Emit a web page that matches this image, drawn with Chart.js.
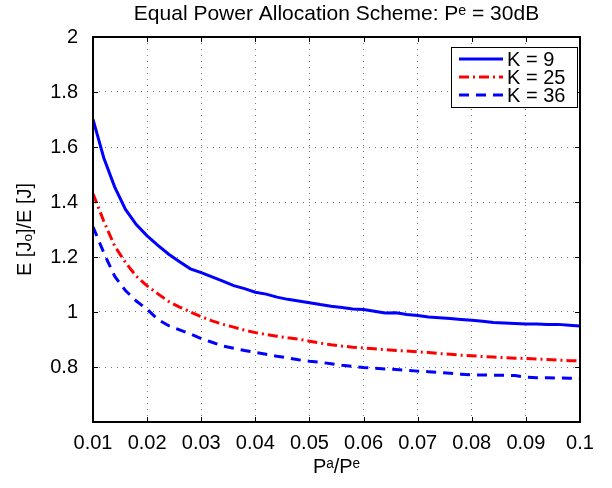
<!DOCTYPE html>
<html>
<head>
<meta charset="utf-8">
<script src="https://cdn.jsdelivr.net/npm/chart.js@4/dist/chart.umd.min.js"></script>
<style>
  html, body { margin: 0; padding: 0; background: #fff; }
  #wrap { width: 612px; height: 488px; }
</style>
</head>
<body>
<div id="wrap"><canvas id="chart" width="612" height="488"></canvas></div>
<script>
// P^a/P^e samples
const ratio = [0.010, 0.012, 0.014, 0.016, 0.018, 0.020, 0.022, 0.024, 0.026, 0.028,
               0.030, 0.032, 0.034, 0.036, 0.038, 0.040, 0.042, 0.044, 0.046, 0.048,
               0.050, 0.052, 0.054, 0.056, 0.058, 0.060, 0.062, 0.064, 0.066, 0.068,
               0.070, 0.072, 0.074, 0.076, 0.078, 0.080, 0.082, 0.084, 0.086, 0.088,
               0.090, 0.092, 0.094, 0.096, 0.098, 0.100];

const k9 = [1.70, 1.56, 1.455, 1.373, 1.318, 1.277, 1.242, 1.210, 1.183, 1.157,
            1.143, 1.128, 1.112, 1.096, 1.085, 1.072, 1.065, 1.054, 1.046, 1.040,
            1.034, 1.027, 1.021, 1.016, 1.011, 1.009, 1.003, 0.996, 0.997, 0.991,
            0.987, 0.982, 0.979, 0.976, 0.973, 0.970, 0.966, 0.962, 0.960, 0.958,
            0.956, 0.956, 0.955, 0.955, 0.952, 0.949];

const k25 = [1.43, 1.33, 1.24, 1.18, 1.13, 1.095, 1.066, 1.038, 1.018, 1.000,
             0.983, 0.968, 0.955, 0.945, 0.934, 0.925, 0.918, 0.912, 0.906, 0.901,
             0.894, 0.887, 0.881, 0.876, 0.872, 0.869, 0.866, 0.863, 0.860, 0.858,
             0.855, 0.853, 0.849, 0.846, 0.843, 0.841, 0.838, 0.836, 0.834, 0.832,
             0.831, 0.829, 0.827, 0.825, 0.823, 0.822];

const k36 = [1.31, 1.215, 1.13, 1.078, 1.04, 1.010, 0.973, 0.950, 0.935, 0.920,
             0.903, 0.890, 0.876, 0.868, 0.860, 0.853, 0.846, 0.839, 0.833, 0.826,
             0.821, 0.817, 0.812, 0.806, 0.802, 0.798, 0.796, 0.793, 0.791, 0.788,
             0.785, 0.783, 0.780, 0.777, 0.774, 0.771, 0.771, 0.770, 0.770, 0.769,
             0.763, 0.761, 0.761, 0.760, 0.759, 0.758];

const seriesLabels = ['K = 9', 'K = 25', 'K = 36'];
const xTicks = [0.01, 0.02, 0.03, 0.04, 0.05, 0.06, 0.07, 0.08, 0.09, 0.1];
const yTicks = [0.6, 0.8, 1.0, 1.2, 1.4, 1.6, 1.8, 2.0];

const FONT = 'Liberation Sans, Arial, Helvetica, sans-serif';

function toPoints(ys) {
    return ratio.map((x, i) => ({ x: x, y: ys[i] }));
}

// box round the plot area with inward ticks, MATLAB style
const axesBox = {
    id: 'axesBox',
    afterDatasetsDraw(chart) {
        const { ctx, chartArea: a, scales } = chart;
        ctx.save();
        ctx.strokeStyle = '#000';
        ctx.lineWidth = 1;
        ctx.beginPath();
        scales.x.ticks.forEach(t => {
            const px = Math.round(scales.x.getPixelForValue(t.value)) + 0.5;
            ctx.moveTo(px, a.bottom); ctx.lineTo(px, a.bottom - 5);
            ctx.moveTo(px, a.top); ctx.lineTo(px, a.top + 5);
        });
        scales.y.ticks.forEach(t => {
            const py = Math.round(scales.y.getPixelForValue(t.value)) + 0.5;
            ctx.moveTo(a.left, py); ctx.lineTo(a.left + 5, py);
            ctx.moveTo(a.right, py); ctx.lineTo(a.right - 5, py);
        });
        ctx.stroke();
        ctx.lineWidth = 2;
        ctx.strokeRect(a.left, a.top, a.right - a.left, a.bottom - a.top);
        ctx.restore();
    }
};

// legend drawn inside the axes, upper right, with a frame
const boxedLegend = {
    id: 'boxedLegend',
    afterDraw(chart) {
        const { ctx, chartArea: a } = chart;
        const w = 126, rowH = 18;
        const h = rowH * chart.data.datasets.length + 6;
        const x0 = a.right - w - 3, y0 = a.top + 10;
        ctx.save();
        ctx.fillStyle = '#fff';
        ctx.fillRect(x0, y0, w, h);
        ctx.strokeStyle = '#000';
        ctx.lineWidth = 1;
        ctx.strokeRect(x0 + 0.5, y0 + 0.5, w, h);
        ctx.font = '20px ' + FONT;
        ctx.textBaseline = 'middle';
        chart.data.datasets.forEach((ds, i) => {
            const cy = y0 + 12 + i * rowH;
            ctx.strokeStyle = ds.borderColor;
            ctx.lineWidth = ds.borderWidth;
            ctx.setLineDash(ds.borderDash || []);
            ctx.beginPath();
            ctx.moveTo(x0 + 8, cy);
            ctx.lineTo(x0 + 52, cy);
            ctx.stroke();
            ctx.setLineDash([]);
            ctx.fillStyle = '#000';
            ctx.fillText(ds.label, x0 + 56, cy + 1);
        });
        ctx.restore();
    }
};

const ctx = document.getElementById('chart').getContext('2d');

const chart = new Chart(ctx, {
    type: 'line',
    data: {
        datasets: [
            {
                label: seriesLabels[0],
                data: toPoints(k9),
                borderColor: '#0000ff',
                borderWidth: 3,
                pointRadius: 0,
                tension: 0
            },
            {
                label: seriesLabels[1],
                data: toPoints(k25),
                borderColor: '#ff0000',
                borderWidth: 3,
                borderDash: [10, 4, 2, 4],
                pointRadius: 0,
                tension: 0
            },
            {
                label: seriesLabels[2],
                data: toPoints(k36),
                borderColor: '#0000ff',
                borderWidth: 3,
                borderDash: [10, 7],
                pointRadius: 0,
                tension: 0
            }
        ]
    },
    options: {
        responsive: false,
        animation: false,
        layout: { padding: { left: 0, right: 32, top: 0, bottom: 0 } },
        plugins: {
            legend: { display: false },
            tooltip: { enabled: false },
            title: {
                display: true,
                fullSize: false,
                text: 'Equal Power Allocation Scheme: P\u1D49 = 30dB',
                color: '#000',
                font: { family: FONT, size: 21, weight: 'normal' },
                padding: { top: 2, bottom: 9.8 }
            }
        },
        scales: {
            x: {
                type: 'linear',
                min: 0.01,
                max: 0.1,
                afterBuildTicks: s => { s.ticks = xTicks.map(v => ({ value: v })); },
                afterFit: s => { s.height = 66; },
                ticks: {
                    color: '#000',
                    padding: 9,
                    maxRotation: 0,
                    font: { family: FONT, size: 20 },
                    callback: v => String(parseFloat(Number(v).toFixed(2)))
                },
                grid: {
                    color: '#777',
                    lineWidth: 1,
                    drawTicks: false
                },
                border: { display: false, dash: [1, 5] },
                title: {
                    display: true,
                    text: 'P\u1D43/P\u1D49',
                    color: '#000',
                    font: { family: FONT, size: 20 },
                    padding: { top: 0, bottom: 9 }
                }
            },
            y: {
                min: 0.6,
                max: 2,
                afterBuildTicks: s => { s.ticks = yTicks.map(v => ({ value: v })); },
                afterFit: s => { s.width = 93; },
                ticks: {
                    color: '#000',
                    padding: 15,
                    font: { family: FONT, size: 20 },
                    callback: v => (v < 0.7 ? '' : String(parseFloat(Number(v).toFixed(1))))
                },
                grid: {
                    color: '#777',
                    lineWidth: 1,
                    drawTicks: false
                },
                border: { display: false, dash: [1, 5] },
                title: {
                    display: true,
                    text: 'E [J\u2092]/E [J]',
                    color: '#000',
                    font: { family: FONT, size: 20 },
                    padding: { top: 13, bottom: 0 }
                }
            }
        }
    },
    plugins: [axesBox, boxedLegend]
});
</script>
</body>
</html>
